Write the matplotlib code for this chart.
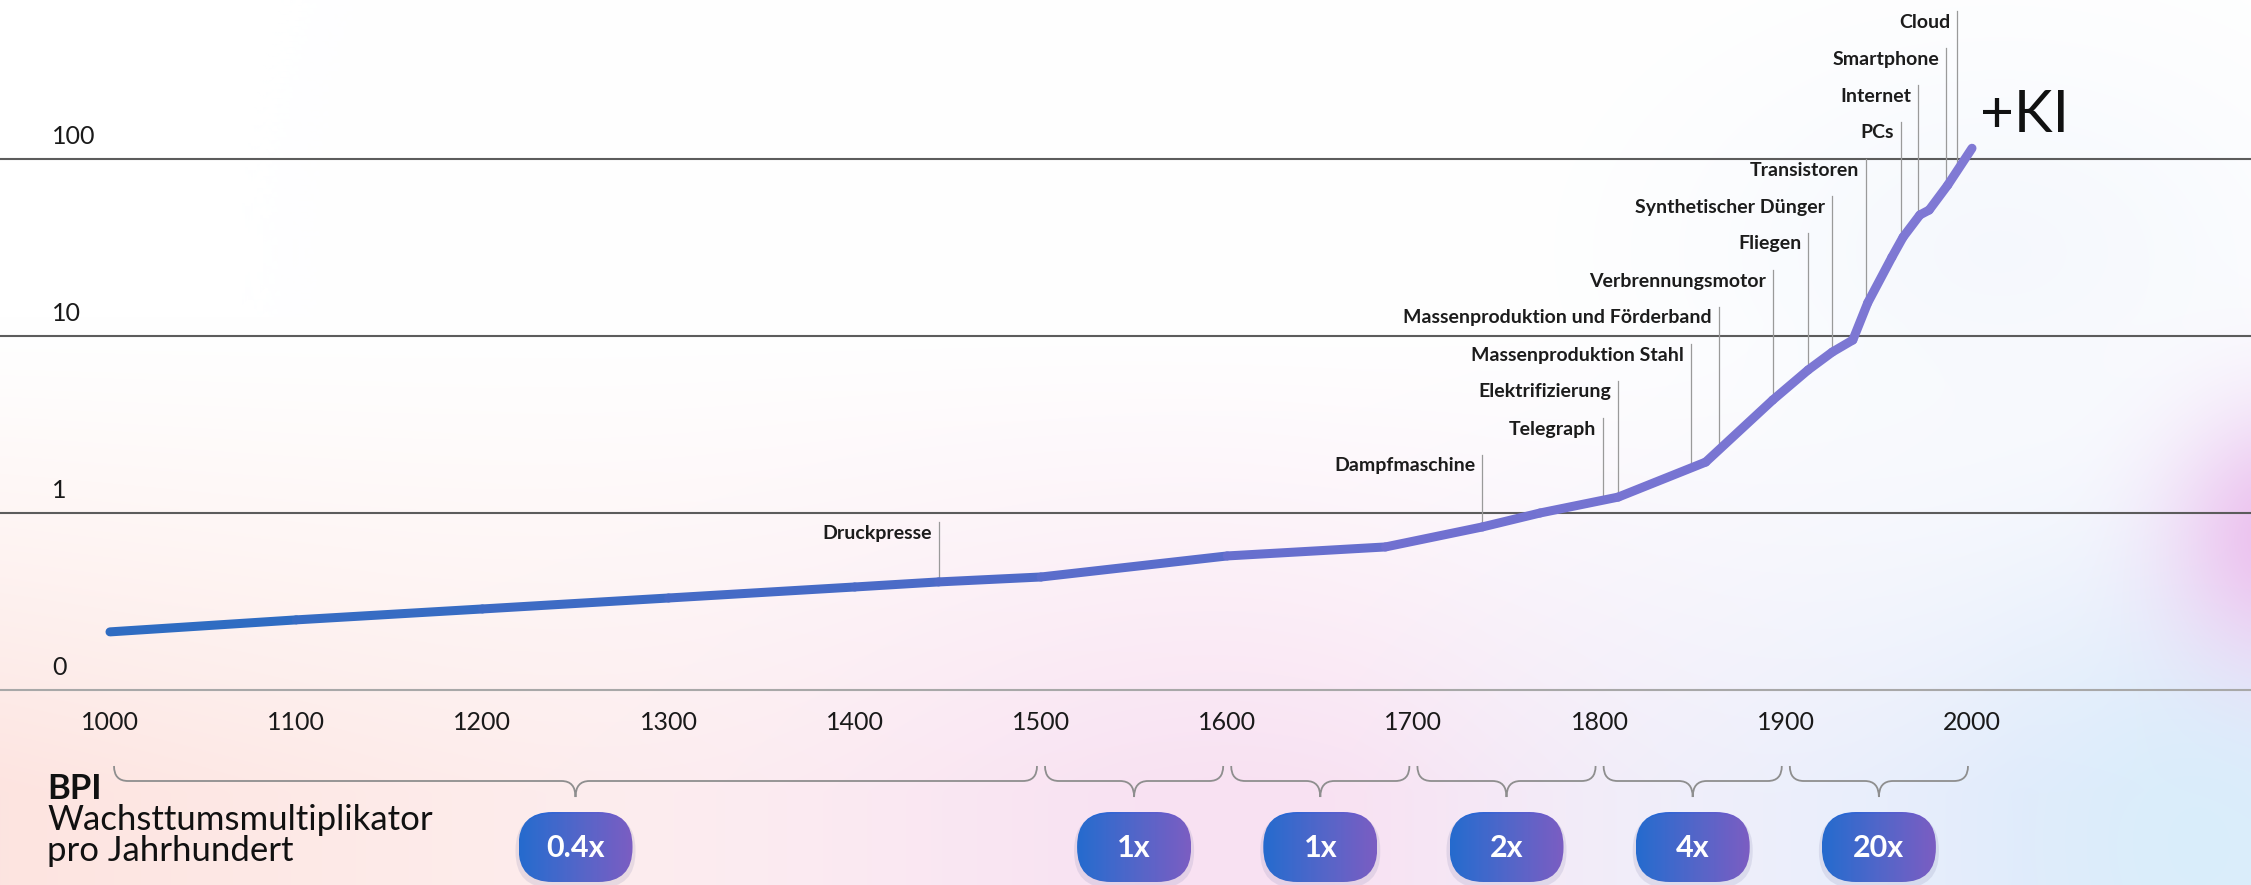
import numpy as np
import matplotlib
matplotlib.use("Agg")
import matplotlib.pyplot as plt
from matplotlib.collections import LineCollection
from matplotlib.colors import LinearSegmentedColormap, to_rgb
from matplotlib.patches import FancyBboxPatch, PathPatch
from matplotlib.path import Path
from matplotlib.ticker import NullLocator

W, H, DPI = 2251, 885, 100

# curve: world output index (log scale) per year
YEARS = [1000, 1100, 1200, 1300, 1400, 1445, 1500, 1600, 1685, 1737, 1768, 1810, 1857,
         1893, 1912, 1925, 1936, 1944, 1957, 1963, 1972, 1977, 1987, 2000]
BPI = [0.213, 0.249, 0.287, 0.331, 0.382, 0.408, 0.435, 0.572, 0.643, 0.834, 1.0, 1.23, 1.94,
       4.35, 6.43, 8.12, 9.49, 15.4, 27.9, 36.2, 48.3, 51.5, 71.3, 115]

EVENTS = ["Cloud", "Smartphone", "Internet", "PCs", "Transistoren", "Synthetischer Dünger",
          "Fliegen", "Verbrennungsmotor", "Massenproduktion und Förderband",
          "Massenproduktion Stahl", "Elektrifizierung", "Telegraph", "Dampfmaschine",
          "Druckpresse"]
EVENT_YEARS = [1992, 1986, 1971, 1962, 1943, 1925, 1912, 1893, 1864, 1849, 1810, 1802,
               1737, 1445]

Y_TICKS = [0.1, 1, 10, 100]
Y_TICK_LABELS = ["0", "1", "10", "100"]
X_TICKS = list(range(1000, 2001, 100))

PERIODS = [(1000, 1500), (1500, 1600), (1600, 1700), (1700, 1800), (1800, 1900), (1900, 2000)]
MULTIPLIERS = ["0.4x", "1x", "1x", "2x", "4x", "20x"]

FONT = ["Lato", "DejaVu Sans"]
plt.rcParams["font.family"] = FONT


def background():
    yy, xx = np.mgrid[0:H:3, 0:W:3].astype(float)
    img = np.ones(yy.shape + (3,))

    def blend(img, color, w):
        w = np.clip(w, 0, 1)[..., None]
        return img * (1 - w) + np.array(to_rgb(color)) * w

    t = xx / W
    low = np.clip((yy - 320) / 470, 0, 1) ** 1.2
    img = blend(img, "#fde4e0", low * np.clip(1 - t * 1.5, 0, 1))
    img = blend(img, "#f8e1f2", low * np.exp(-((t - 0.55) / 0.22) ** 2))
    img = blend(img, "#e3ebfb", low * np.clip((t - 0.6) / 0.3, 0, 1))
    img = blend(img, "#d8eefb", 0.85 * np.exp(-((xx - 2200) / 170) ** 2 - ((yy - 840) / 220) ** 2))
    img = blend(img, "#ecbfee", 1.0 * np.exp(-((xx - 2280) / 110) ** 2 - ((yy - 530) / 130) ** 2))
    img = blend(img, "#f2f6fd", 0.7 * np.exp(-((xx - 2000) / 300) ** 2 - ((yy - 250) / 200) ** 2))
    return img


fig = plt.figure(figsize=(W / DPI, H / DPI), dpi=DPI)

bg = fig.add_axes([0, 0, 1, 1], zorder=0)
bg.imshow(background(), extent=(0, W, H, 0), aspect="auto", interpolation="bicubic")
bg.axis("off")

# main axes: bottom edge sits on the "0" gridline
x_per_year = 1.862
xlim = (1000 - 110 / x_per_year, 1000 + (W - 110) / x_per_year)
ax = fig.add_axes([0, (H - 690) / H, 1, 690 / H], zorder=1)
ax.patch.set_alpha(0)
ax.set_yscale("log")
ax.set_xlim(xlim)
ax.set_ylim(0.1, 10 ** (690 / 177 - 1))
for s in ax.spines.values():
    s.set_visible(False)
ax.yaxis.set_major_locator(NullLocator())
ax.yaxis.set_minor_locator(NullLocator())
ax.set_xticks(X_TICKS, [str(x) for x in X_TICKS])
ax.tick_params(axis="x", length=0, pad=15, labelsize=18, labelcolor="#1a1a1a")

for v, lab in zip(Y_TICKS, Y_TICK_LABELS):
    ax.axhline(v, color="#a8a8a8" if v == Y_TICKS[0] else "#5c5c5c", lw=1.5,
               clip_on=False, zorder=1)
    ax.annotate(lab, xy=(0, v), xycoords=("axes fraction", "data"),
                xytext=(52, 15), textcoords="offset pixels", fontsize=18,
                color="#1a1a1a", va="baseline", ha="left")

# curve with blue -> purple gradient
cmap = LinearSegmentedColormap.from_list(
    "bpi", [(0, "#2c6cc1"), (0.45, "#4d6bc7"), (0.7, "#6f70d0"), (1, "#8079d4")])
pts = np.column_stack([YEARS, BPI])
segs = np.stack([pts[:-1], pts[1:]], axis=1)
mids = (np.array(YEARS[:-1]) + np.array(YEARS[1:])) / 2
lc = LineCollection(segs, colors=cmap((mids - 1000) / 1000), linewidths=6.5,
                    capstyle="round", joinstyle="round", zorder=4)
ax.add_collection(lc)

inv = ax.transData.inverted()
ov = fig.add_axes([0, 0, 1, 1], zorder=2)
ov.patch.set_alpha(0)
ov.axis("off")

# milestone labels with leader lines down to the curve
log_bpi = np.log10(BPI)
for i, (name, yr) in enumerate(zip(EVENTS, EVENT_YEARS)):
    y_lab = 22 + 37 * i if name != "Druckpresse" else 533
    val = 10 ** np.interp(yr, YEARS, log_bpi)
    xd = ax.transData.transform((yr, val))[0]
    top_val = inv.transform((xd, H - (y_lab - 11)))[1]
    ax.plot([yr, yr], [val, top_val], color="#9a9a9a", lw=0.9, zorder=2, clip_on=False)
    ov.text(xd - 7, y_lab, name, ha="right", va="center", fontsize=14,
            fontweight="bold", color="#1c1c1c")

end_x = ax.transData.transform((YEARS[-1], BPI[-1]))[0]
ov.text(end_x + 8, 116, "+KI", ha="left", va="center", fontsize=42, color="#111111")

# braces and growth multiplier badges
bcmap = LinearSegmentedColormap.from_list("badge", ["#1569d6", "#4a63d0", "#7c58c8"])
grad = np.linspace(0, 1, 256)[None, :]
for (a, b), lab in zip(PERIODS, MULTIPLIERS):
    x0 = ax.transData.transform((a, 1))[0] + 4
    x1 = ax.transData.transform((b, 1))[0] - 4
    m = (x0 + x1) / 2
    r = 14
    yt, ym, yp = 766, 781, 797
    verts = [(x0, yt), (x0, ym), (x0 + r, ym), (m - r, ym), (m, ym), (m, yp),
             (m, ym), (m + r, ym), (x1 - r, ym), (x1, ym), (x1, yt)]
    codes = [Path.MOVETO, Path.CURVE3, Path.CURVE3, Path.LINETO, Path.CURVE3, Path.CURVE3,
             Path.CURVE3, Path.CURVE3, Path.LINETO, Path.CURVE3, Path.CURVE3]
    ov.add_patch(PathPatch(Path(verts, codes), fill=False, edgecolor="#8e8e8e", lw=1.3))

    bw, bh, cy = 114, 70, 847
    shadow = FancyBboxPatch((m - bw / 2 - 3, cy - bh / 2 + 2), bw + 6, bh + 4,
                            boxstyle="round,pad=0,rounding_size=36",
                            facecolor="#7a7aa8", edgecolor="none", alpha=0.16)
    ov.add_patch(shadow)
    pill = FancyBboxPatch((m - bw / 2, cy - bh / 2), bw, bh,
                          boxstyle="round,pad=0,rounding_size=34",
                          facecolor="none", edgecolor="none")
    ov.add_patch(pill)
    im = ov.imshow(grad, cmap=bcmap, extent=(m - bw / 2, m + bw / 2, cy + bh / 2, cy - bh / 2),
                   aspect="auto", interpolation="bicubic")
    im.set_clip_path(pill)
    ov.text(m, cy + 1, lab, ha="center", va="center", fontsize=22, fontweight="bold",
            color="white")

ov.text(47, 789, "BPI", ha="left", va="center", fontsize=25, fontweight="bold", color="#111111")
ov.text(47, 820, "Wachsttumsmultiplikator", ha="left", va="center", fontsize=25, color="#111111")
ov.text(47, 851, "pro Jahrhundert", ha="left", va="center", fontsize=25, color="#111111")

ov.set_xlim(0, W)
ov.set_ylim(H, 0)

fig.savefig("out.png", dpi=DPI)
